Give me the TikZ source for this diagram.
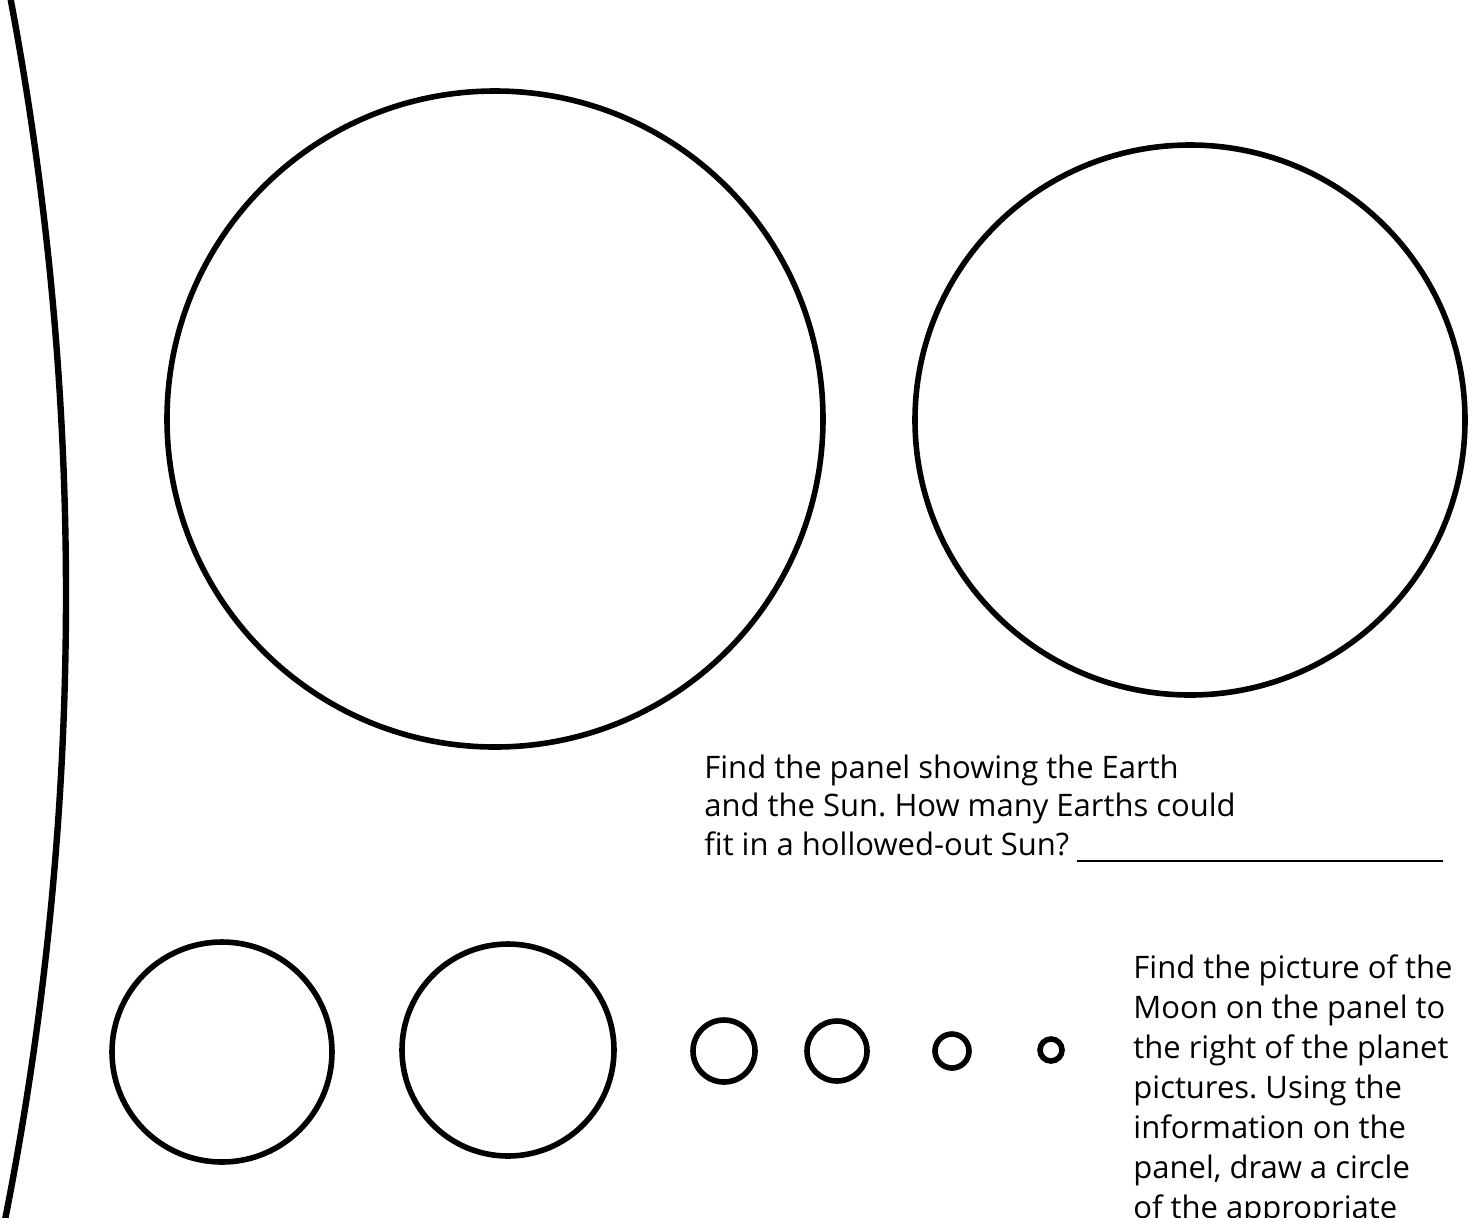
\documentclass[tikz,border=0pt]{standalone}
\usepackage{fontspec}
\setmainfont{Open Sans}
\frenchspacing
\begin{document}
\begin{tikzpicture}[x=0.5pt,y=-0.5pt,ring/.style={draw,line width=2.8pt},note/.style={anchor=base west,inner sep=0,align=left,font=\fontsize{15.5}{19.25}\selectfont}]
\useasboundingbox (0,0) rectangle (1478,1217);
\begin{scope}\clip (0,0) rectangle (1478,1217);
\draw[line width=3.2pt] (-3134,595) circle[radius=1600pt];
\end{scope}
\draw[ring] (495,419) circle[radius=164pt];
\draw[ring] (1190,420) circle[radius=137.5pt];
\foreach \x/\y/\r in {222/1052/55,508/1050/53,724/1051/15.5,837/1051/15,952/1051/8.5,1051/1050/5.5}\draw[ring](\x,\y)circle[radius=\r pt];
% anchor base = baseline of the last line
\node[note](earth) at (704,855) {Find the panel showing the Earth\\and the Sun. How many Earths could\\fit in a hollowed-out Sun? \rule[-3.5pt]{183pt}{1.2pt}};
\node[note,font=\fontsize{15.5}{20}\selectfont](moon) at (1133,1218) {Find the picture of the\\Moon on the panel to\\the right of the planet\\pictures. Using the\\information on the\\panel, draw a circle\\of the appropriate};
\end{tikzpicture}
\end{document}
